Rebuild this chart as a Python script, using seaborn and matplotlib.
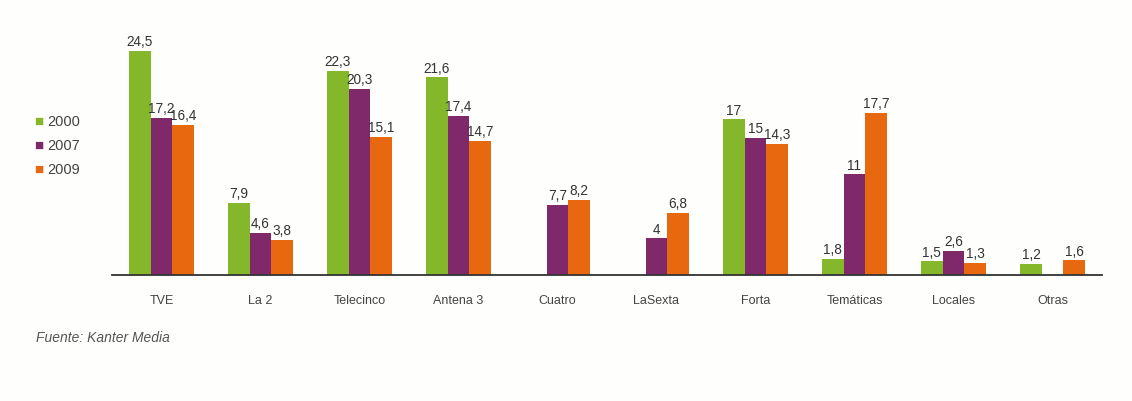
import numpy as np
import pandas as pd
import matplotlib
matplotlib.use("Agg")
import matplotlib.pyplot as plt
import seaborn as sns

categories = ["TVE", "La 2", "Telecinco", "Antena 3", "Cuatro", "LaSexta",
              "Forta", "Temáticas", "Locales", "Otras"]
years = ["2000", "2007", "2009"]
v2000 = [24.5, 7.9, 22.3, 21.6, np.nan, np.nan, 17, 1.8, 1.5, 1.2]
v2007 = [17.2, 4.6, 20.3, 17.4, 7.7, 4, 15, 11, 2.6, np.nan]
v2009 = [16.4, 3.8, 15.1, 14.7, 8.2, 6.8, 14.3, 17.7, 1.3, 1.6]

rows = []
for y, vals in zip(years, [v2000, v2007, v2009]):
    for c, v in zip(categories, vals):
        rows.append({"cat": c, "year": y, "val": v})
df = pd.DataFrame(rows)

sns.set_theme(style="white")
plt.rcParams['font.family'] = ['Liberation Sans', 'DejaVu Sans']

colors = {"2000": "#84b82a", "2007": "#80296a", "2009": "#e8680f"}

fig = plt.figure(figsize=(11.32, 4.02), dpi=100)
fig.patch.set_facecolor("#fefefc")
ax = fig.add_axes([0.0989, 0.3134, 0.8746, 0.5918])
ax.set_facecolor("none")

sns.barplot(data=df, x="cat", y="val", hue="year", order=categories,
            hue_order=years, palette=colors, width=0.655, saturation=1,
            ax=ax, legend=False, errorbar=None, linewidth=0)

for cont in ax.containers:
    ax.bar_label(cont, fmt=lambda v: (f"{v:g}".replace(".", ",") if np.isfinite(v) and v > 0 else ""),
                 fontsize=9.8, color="#333333", padding=2)

ax.set_ylim(0, 26)
ax.set_xlim(-0.5, len(categories) - 0.5)
ax.set_xlabel("")
ax.set_ylabel("")
ax.set_yticks([])
for s in ["left", "right", "top"]:
    ax.spines[s].set_visible(False)
ax.spines["bottom"].set_color("#333333")
ax.spines["bottom"].set_linewidth(1.3)
ax.tick_params(axis="x", which="major", length=0, pad=14, labelsize=9, labelcolor="#444444")
ax.set_xticks(np.arange(-0.5, len(categories)), minor=True)
ax.tick_params(axis="x", which="minor", length=4, width=1.3, color="#333333", direction="inout")

# legend
for i, y in enumerate(years):
    yy = 1 - 122 / 402 - i * 24 / 402
    fig.text(34 / 1132, yy, "\u25A0", color=colors[y], fontsize=11, va="center", ha="left")
    fig.text(47 / 1132, yy, y, color="#444444", fontsize=10.5, va="center", ha="left")

fig.text(36 / 1132, 1 - 338 / 402, "Fuente: Kanter Media", fontsize=10,
         style="italic", color="#555555", va="center", ha="left")

fig.savefig("out.png", dpi=100, facecolor=fig.get_facecolor())
